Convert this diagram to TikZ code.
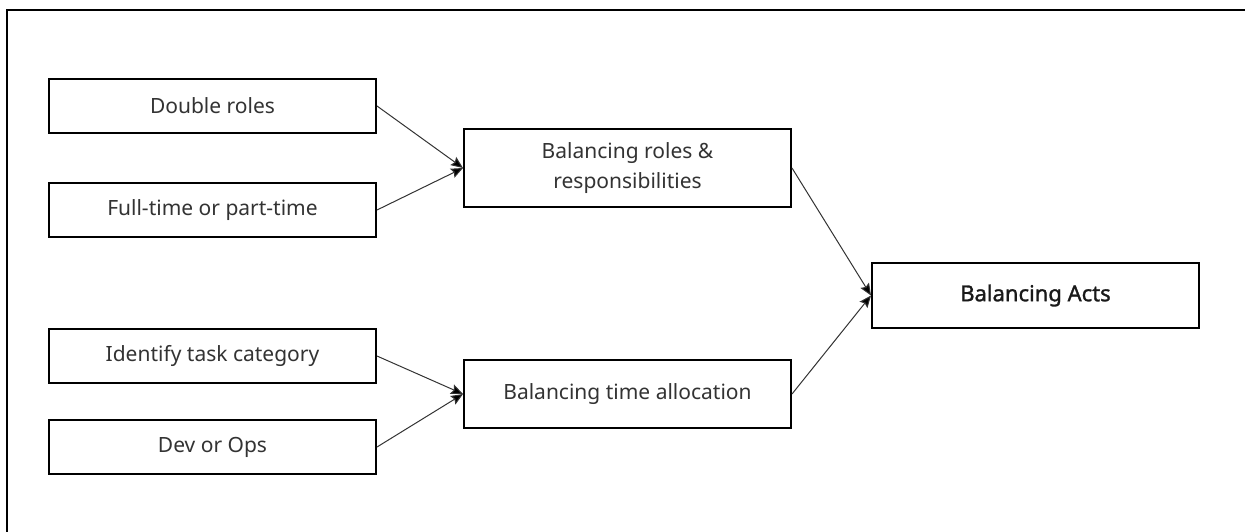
\documentclass[tikz,border=0pt]{standalone}
\usepackage{fontspec}
\setmainfont{Noto Sans}
\newfontfamily\actsfont{Noto Sans}[FakeBold=1.3]
\usetikzlibrary{arrows.meta}
\definecolor{ink}{HTML}{333333}
\tikzset{
  box/.style={draw=black, line width=2pt, fill=white, inner sep=0pt,
    text=ink, align=center, font=\fontsize{21}{30}\selectfont},
  link/.style={draw=black!80, line width=1pt,
    -{Stealth[length=12pt, width=10pt, inset=2pt, fill=black]}},
}
\begin{document}
\begin{tikzpicture}[x=1pt, y=-1pt]
  \useasboundingbox (0,0) rectangle (1245,531);
  % outer frame (left and top edges)
  \draw[line width=2pt] (7,533) -- (7,10) -- (1247,10);

  % left column
  \node[box, minimum width=327pt, minimum height=54pt] (dbl)  at (212.5,106) {Double roles};
  \node[box, minimum width=327pt, minimum height=54pt] (full) at (212.5,210) {Full-time or part-time};
  \node[box, minimum width=327pt, minimum height=54pt] (task) at (212.5,356) {Identify task category};
  \node[box, minimum width=327pt, minimum height=54pt] (dev)  at (212.5,447) {Dev or Ops};

  % middle column
  \node[box, minimum width=327pt, minimum height=78pt] (roles) at (627.5,168) {Balancing roles \&\\responsibilities};
  \node[box, minimum width=327pt, minimum height=68pt] (time)  at (627.5,394) {Balancing time allocation};

  % result
  \node[box, minimum width=327pt, minimum height=65pt,
        font=\fontsize{22}{26}\actsfont, text=black!90] (acts) at (1035.5,295.5) {Balancing Acts};

  % connectors
  \draw[link] (dbl.east)   -- (roles.west);
  \draw[link] (full.east)  -- (roles.west);
  \draw[link] (task.east)  -- (time.west);
  \draw[link] (dev.east)   -- (time.west);
  \draw[link] (roles.east) -- (acts.west);
  \draw[link] (time.east)  -- (acts.west);
\end{tikzpicture}
\end{document}
